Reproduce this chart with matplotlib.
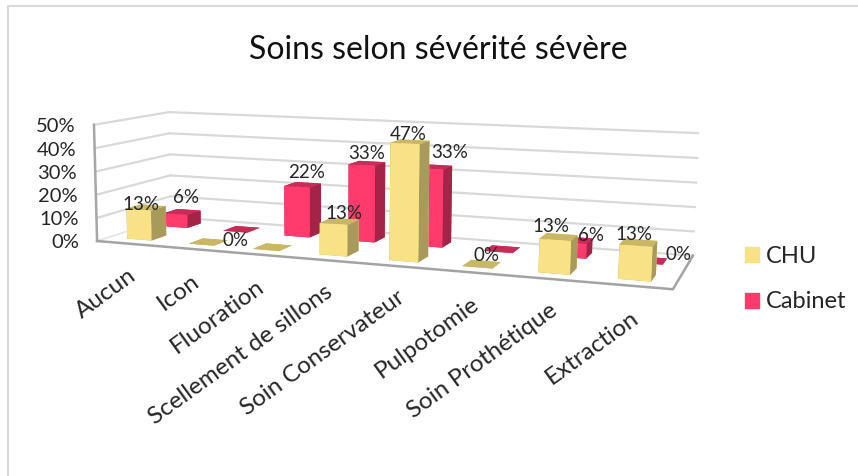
import numpy as np
import matplotlib
matplotlib.use('Agg')
import matplotlib.pyplot as plt
from matplotlib.patches import Patch
from mpl_toolkits.mplot3d import Axes3D, proj3d

# chart data
categories = ['Aucun', 'Icon', 'Fluoration', 'Scellement de sillons', 'Soin Conservateur',
              'Pulpotomie', 'Soin Prothétique', 'Extraction']
chu = [13, 0, 0, 13, 47, 0, 13, 13]
cabinet = [6, 0, 22, 33, 33, 0, 6, 0]
y_ticks = [0, 10, 20, 30, 40, 50]
# only these data labels show in the original
chu_labelled = [1, 0, 0, 1, 1, 1, 1, 1]
cabinet_labelled = [1, 1, 1, 1, 1, 0, 1, 1]

W, H = 858, 476
plt.rcParams['font.family'] = ['Lato', 'DejaVu Sans']
text_col = '#262626'

# camera of the Excel 3D view: frame corners (unit box) -> pixels, solved with DLT
box = np.array([[0, 0, 0], [1, 0, 0], [1, 1, 0], [0, 1, 0], [0, 0, 1], [0, 1, 1], [1, 1, 1]], float)
pix = np.array([[98, 241], [673, 289], [693, 256], [170, 217], [93, 125], [170, 112], [698, 133]], float)
rows = []
for (a, b, c), (u, v) in zip(box, pix):
    v = (H - v) / 100
    u = u / 100
    rows.append([a, b, c, 1, 0, 0, 0, 0, -u*a, -u*b, -u*c, -u])
    rows.append([0, 0, 0, 0, a, b, c, 1, -v*a, -v*b, -v*c, -v])
P = np.linalg.svd(np.array(rows))[2][-1].reshape(3, 4)
if P[2, 3] < 0:
    P = -P
P[:2] *= 100
P[:, 0] /= len(categories)
P[:, 1] /= 2
P[:, 2] /= y_ticks[-1]
cam = np.array([P[0], P[1], [0, 0, 0, -1], P[2]])

fig = plt.figure(figsize=(W/100, H/100), dpi=100)
ax = fig.add_axes([0, 0, 1, W/H], projection='3d')
ax.set_axis_off()
ax.set_proj_type('ortho')  # stops mplot3d clipping lines to +-1, the real camera is cam
ax.computed_zorder = False
ax.get_proj = lambda: cam

n = len(categories)
# back wall and side wall gridlines
for t in y_ticks[1:]:
    ax.plot([0, n], [2, 2], [t, t], color='#d9d9d9', lw=1.6, zorder=1)
    ax.plot([0, 0], [0, 2], [t, t], color='#d9d9d9', lw=1.6, zorder=1)
ax.plot([0, n], [2, 2], [0, 0], color='#d9d9d9', lw=1.6, zorder=1)
ax.plot([0, 0], [0, 2], [0, 0], color='#e4e4e4', lw=1.2, zorder=1)
# floor edges and left edge
ax.plot([0, n, n], [0, 0, 2], [0, 0, 0], color='#a3a3a3', lw=1.8, zorder=2)
ax.plot([0, 0], [0, 0], [0, y_ticks[-1]], color='#a6a6a6', lw=1.8, zorder=2)


def add_bars(vals, row, front, side, top, z0):
    for i, v in enumerate(vals):
        ax.bar3d(i + 0.3, row + 0.3, 0, 0.4, 0.4, v, shade=False, lw=0,
                 color=[top, top, front, front, side, side], zorder=z0 + i)


add_bars(cabinet, 1, '#ff3b6e', '#a32448', '#c72c58', 10)
add_bars(chu, 0, '#f9e285', '#a89a5b', '#c9b766', 30)


def to_px(x, y, z):
    px, py, _ = proj3d.proj_transform(x, y, z, cam)
    return float(px), float(py)


def put(x, y, s, **kw):
    fig.text(x / W, y / H, s, color=text_col, **kw)


# labels were moved by hand in Excel, offsets in pixels from the bar top
chu_shift = {0: (2, 5), 3: (10, 10), 4: (3, 9), 5: (9, 12), 6: (-4, 13), 7: (-2, 11)}
cabinet_shift = {0: (4, 14), 1: (-6, -11), 2: (4, 12), 3: (0, 10), 4: (16, 14), 6: (16, 5), 7: (29, 6)}


def add_labels(vals, shown, y3d, shift):
    for i, v in enumerate(vals):
        if shown[i]:
            px, py = to_px(i + 0.5, y3d, v)
            ox, oy = shift[i]
            put(px + ox, py + oy, f'{v}%', ha='center', va='center', fontsize=13.5)


add_labels(cabinet, cabinet_labelled, 1.5, cabinet_shift)
add_labels(chu, chu_labelled, 0.3, chu_shift)

for t in y_ticks:
    px, py = to_px(-0.3, 0, t)
    put(px, py - 3, f'{t}%', ha='right', va='center', fontsize=14.5)
for i, c in enumerate(categories):
    px, py = to_px(i + 0.5, 0, 0)
    put(px, py - 21, c, ha='right', va='top', rotation=36, rotation_mode='anchor', fontsize=17.5)

ax.set_xlim(0, n)
ax.set_ylim(0, 2)
ax.set_zlim(0, y_ticks[-1])
ax.viewLim.set_points(np.array([[0, 0], [W, W]], float))

fig.text(438/W, 1 - 50/H, 'Soins selon sévérité sévère', ha='center', va='center',
         fontsize=23, color='#111111')
fig.legend(handles=[Patch(color='#f9e285', label='CHU'), Patch(color='#ff3b6e', label='Cabinet')],
           loc='center left', bbox_to_anchor=(745/W, 1 - 279/H), frameon=False, fontsize=17,
           labelcolor=text_col, handlelength=0.6, handleheight=0.6, labelspacing=1.05,
           handletextpad=0.3, borderpad=0, borderaxespad=0)
# chart border, left and top
fig.add_artist(plt.Line2D([8/W, 8/W, 1], [0, 1 - 6/H, 1 - 6/H], color='#d9d9d9', lw=1.5))

fig.savefig('out.png', dpi=100)
